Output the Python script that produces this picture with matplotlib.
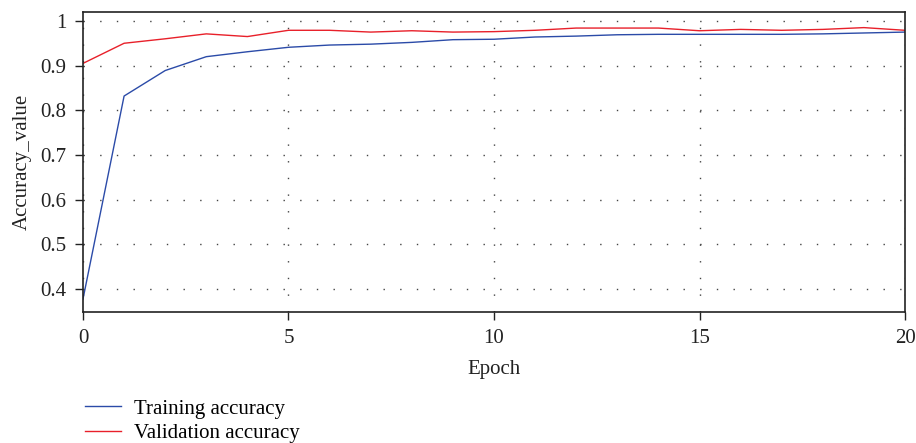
import numpy as np
import matplotlib.pyplot as plt

plt.rcParams['font.family'] = ['Liberation Serif', 'DejaVu Serif']

# Data
epochs = list(range(21))
train_acc = [0.378, 0.832, 0.889, 0.920, 0.931, 0.941, 0.946, 0.948, 0.952, 0.958, 0.959,
             0.964, 0.966, 0.969, 0.970, 0.970, 0.970, 0.970, 0.971, 0.973, 0.975]
val_acc = [0.905, 0.950, 0.960, 0.971, 0.965, 0.979, 0.979, 0.975, 0.978, 0.975, 0.976,
           0.979, 0.984, 0.984, 0.984, 0.978, 0.981, 0.979, 0.981, 0.985, 0.979]
y_ticks = [0.4, 0.5, 0.6, 0.7, 0.8, 0.9, 1.0]
y_tick_labels = ['0.4', '0.5', '0.6', '0.7', '0.8', '0.9', '1']
x_ticks = [0, 5, 10, 15, 20]

fig = plt.figure(figsize=(9.16, 4.43), dpi=100)
ax = fig.add_axes([0.0906, 0.2957, 0.8974, 0.6773])

ax.plot(epochs, train_acc, color='#2b4ba8', lw=1.0, label='Training accuracy')
ax.plot(epochs, val_acc, color='#e8202a', lw=1.0, label='Validation accuracy')

ax.set_xlim(0, 20)
ax.set_ylim(0.349, 1.02)
ax.set_xticks(x_ticks)
ax.set_yticks(y_ticks)
ax.set_yticklabels(y_tick_labels)
ax.tick_params(direction='out', length=6, width=1, labelsize=15, pad=6, colors='#222222')
ax.grid(True, color='#444444', linestyle=(0, (1, 11)), linewidth=1.0)

for s in ax.spines.values():
    s.set_linewidth(1.2)
    s.set_color('#222222')

ax.set_xlabel('Epoch', fontsize=15, labelpad=9, color='#222222')
ax.set_ylabel('Accuracy_value', fontsize=15, labelpad=6, color='#222222')

ax.legend(loc='upper left', bbox_to_anchor=(0.003, -0.29), frameon=False,
          fontsize=15, handlelength=1.7, handletextpad=0.65, labelspacing=0.25,
          borderaxespad=0, borderpad=0)

fig.savefig('out.png', dpi=100)
